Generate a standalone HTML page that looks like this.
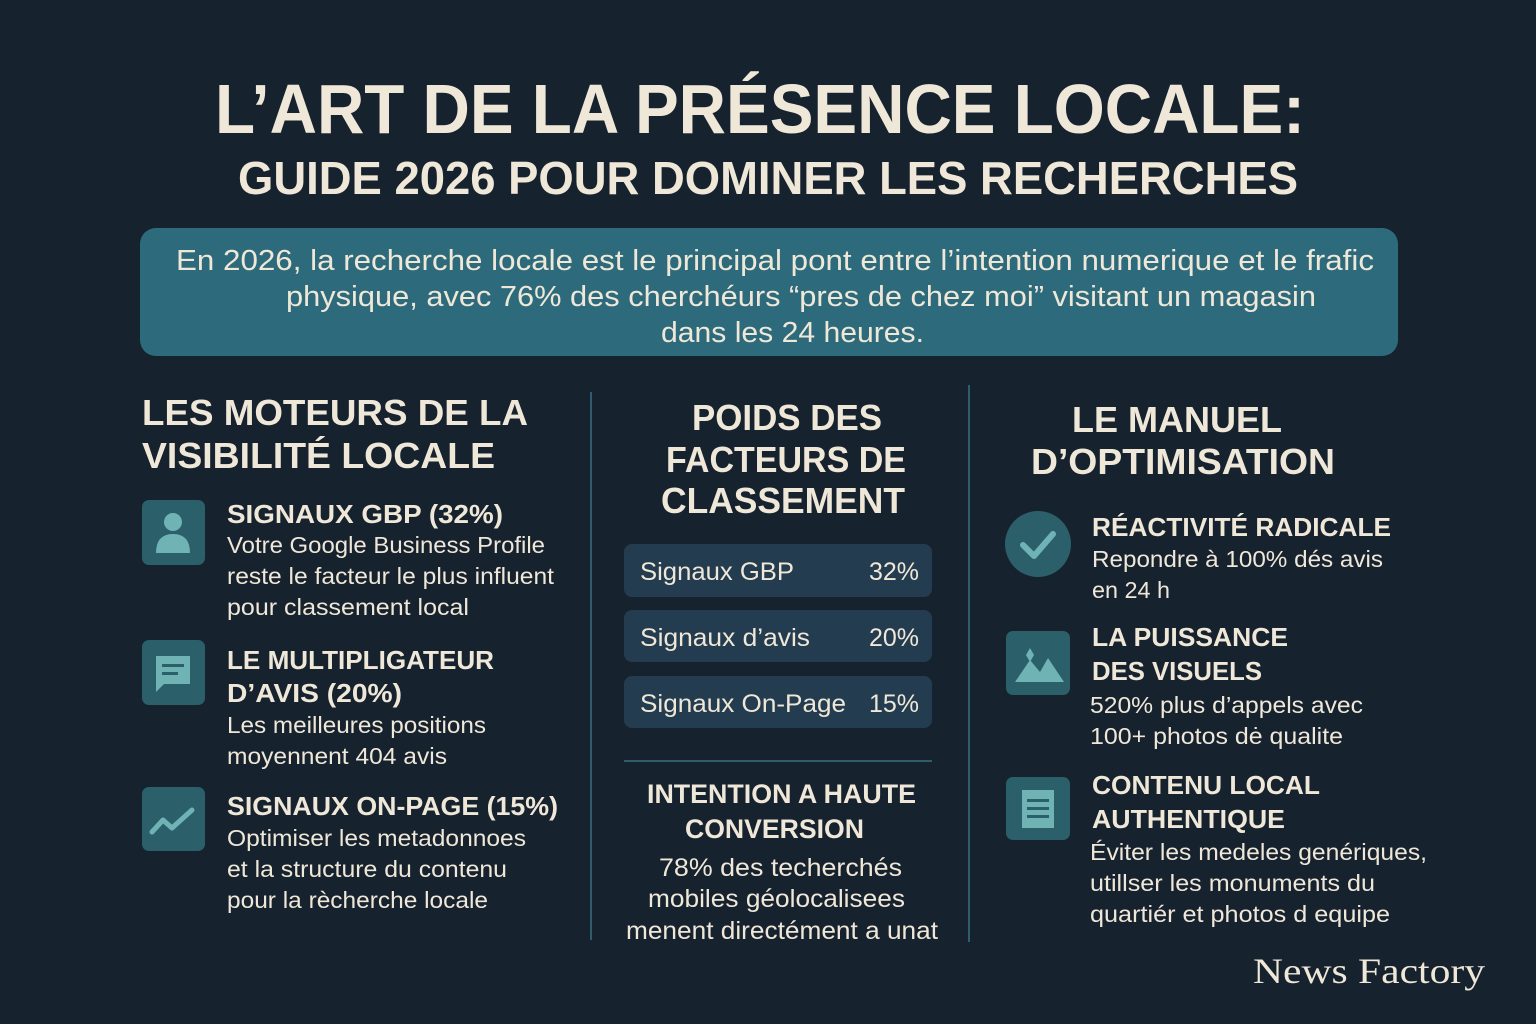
<!DOCTYPE html>
<html><head><meta charset="utf-8"><style>
html,body{margin:0;padding:0;background:#17222f;}
svg{display:block}
text{font-family:"Liberation Sans",sans-serif;fill:#efe8d8;}
.h{font-weight:bold}
</style></head><body>
<svg width="1536" height="1024" viewBox="0 0 1536 1024" xmlns="http://www.w3.org/2000/svg">
<rect width="1536" height="1024" fill="#17222f"/>
<text class="h" x="215" y="133" font-size="70" textLength="1090" lengthAdjust="spacingAndGlyphs">L’ART DE LA PRÉSENCE LOCALE:</text>
<text class="h" x="238" y="194" font-size="46" textLength="1060" lengthAdjust="spacingAndGlyphs">GUIDE 2026 POUR DOMINER LES RECHERCHES</text>
<rect x="140" y="228" width="1258" height="128" rx="16" fill="#2d6b7c"/>
<text x="176" y="270" font-size="29" textLength="1198" lengthAdjust="spacingAndGlyphs">En 2026, la recherche locale est le principal pont entre l’intention numerique et le frafic</text>
<text x="286" y="306" font-size="29" textLength="1030" lengthAdjust="spacingAndGlyphs">physique, avec 76% des cherchéurs “pres de chez moi” visitant un magasin</text>
<text x="661" y="342" font-size="29" textLength="263" lengthAdjust="spacingAndGlyphs">dans les 24 heures.</text>
<line x1="591" y1="392" x2="591" y2="940" stroke="#2f5d6e" stroke-width="2"/>
<line x1="969" y1="385" x2="969" y2="942" stroke="#2f5d6e" stroke-width="2"/>
<!-- left -->
<text class="h" x="142" y="425" font-size="36" textLength="386" lengthAdjust="spacingAndGlyphs">LES MOTEURS DE LA</text>
<text class="h" x="142" y="468" font-size="36" textLength="353" lengthAdjust="spacingAndGlyphs">VISIBILITÉ LOCALE</text>
<rect x="142" y="500" width="63" height="65" rx="7" fill="#2b5f6a"/>
<circle cx="173" cy="522" r="9" fill="#6fb3b5"/><path d="M156 553 Q156 534 173 534 Q190 534 190 553 Z" fill="#6fb3b5"/>
<rect x="142" y="640" width="63" height="65" rx="7" fill="#2b5f6a"/>
<path d="M156 656 H190 V684 H164 L156 692 Z" fill="#6fb3b5"/><rect x="162" y="664" width="22" height="3" fill="#2b5f6a"/><rect x="162" y="672" width="16" height="3" fill="#2b5f6a"/>
<rect x="142" y="787" width="63" height="64" rx="7" fill="#2b5f6a"/>
<polyline points="152,832 163,820 172,828 192,810" fill="none" stroke="#6fb3b5" stroke-width="5" stroke-linejoin="round" stroke-linecap="round"/>
<text class="h" x="227" y="523" font-size="26" textLength="276" lengthAdjust="spacingAndGlyphs">SIGNAUX GBP (32%)</text>
<text x="227" y="553" font-size="23" textLength="318" lengthAdjust="spacingAndGlyphs">Votre Google Business Profile</text>
<text x="227" y="584" font-size="23" textLength="327" lengthAdjust="spacingAndGlyphs">reste le facteur le plus influent</text>
<text x="227" y="615" font-size="23" textLength="242" lengthAdjust="spacingAndGlyphs">pour classement local</text>
<text class="h" x="227" y="669" font-size="26" textLength="267" lengthAdjust="spacingAndGlyphs">LE MULTIPLIGATEUR</text>
<text class="h" x="227" y="702" font-size="26" textLength="175" lengthAdjust="spacingAndGlyphs">D’AVIS (20%)</text>
<text x="227" y="733" font-size="23" textLength="259" lengthAdjust="spacingAndGlyphs">Les meilleures positions</text>
<text x="227" y="764" font-size="23" textLength="220" lengthAdjust="spacingAndGlyphs">moyennent 404 avis</text>
<text class="h" x="227" y="815" font-size="26" textLength="331" lengthAdjust="spacingAndGlyphs">SIGNAUX ON-PAGE (15%)</text>
<text x="227" y="846" font-size="23" textLength="299" lengthAdjust="spacingAndGlyphs">Optimiser les metadonnoes</text>
<text x="227" y="877" font-size="23" textLength="280" lengthAdjust="spacingAndGlyphs">et la structure du contenu</text>
<text x="227" y="908" font-size="23" textLength="261" lengthAdjust="spacingAndGlyphs">pour la rècherche locale</text>
<!-- middle -->
<text class="h" x="692" y="430" font-size="36" textLength="190" lengthAdjust="spacingAndGlyphs">POIDS DES</text>
<text class="h" x="666" y="472" font-size="36" textLength="240" lengthAdjust="spacingAndGlyphs">FACTEURS DE</text>
<text class="h" x="661" y="513" font-size="36" textLength="244" lengthAdjust="spacingAndGlyphs">CLASSEMENT</text>
<rect x="624" y="544" width="308" height="53" rx="8" fill="#243c50"/>
<rect x="624" y="610" width="308" height="52" rx="8" fill="#243c50"/>
<rect x="624" y="676" width="308" height="52" rx="8" fill="#243c50"/>
<text x="640" y="580" font-size="25" textLength="154" lengthAdjust="spacingAndGlyphs">Signaux GBP</text>
<text x="919" y="580" font-size="25" text-anchor="end">32%</text>
<text x="640" y="646" font-size="25" textLength="170" lengthAdjust="spacingAndGlyphs">Signaux d’avis</text>
<text x="919" y="646" font-size="25" text-anchor="end">20%</text>
<text x="640" y="712" font-size="25" textLength="206" lengthAdjust="spacingAndGlyphs">Signaux On-Page</text>
<text x="919" y="712" font-size="25" text-anchor="end">15%</text>
<line x1="624" y1="761" x2="932" y2="761" stroke="#2f5d6e" stroke-width="2"/>
<text class="h" x="647" y="803" font-size="27" textLength="269" lengthAdjust="spacingAndGlyphs">INTENTION A HAUTE</text>
<text class="h" x="685" y="838" font-size="27" textLength="179" lengthAdjust="spacingAndGlyphs">CONVERSION</text>
<text x="659" y="876" font-size="25" textLength="243" lengthAdjust="spacingAndGlyphs">78% des techerchés</text>
<text x="648" y="907" font-size="25" textLength="257" lengthAdjust="spacingAndGlyphs">mobiles géolocalisees</text>
<text x="626" y="939" font-size="25" textLength="312" lengthAdjust="spacingAndGlyphs">menent directément a unat</text>
<!-- right -->
<text class="h" x="1072" y="432" font-size="36" textLength="210" lengthAdjust="spacingAndGlyphs">LE MANUEL</text>
<text class="h" x="1031" y="474" font-size="36" textLength="304" lengthAdjust="spacingAndGlyphs">D’OPTIMISATION</text>
<circle cx="1038" cy="544" r="33" fill="#2b5f6a"/>
<polyline points="1023,545 1034,556 1053,534" fill="none" stroke="#6fb3b5" stroke-width="6" stroke-linecap="round" stroke-linejoin="round"/>
<rect x="1006" y="631" width="64" height="64" rx="7" fill="#2b5f6a"/>
<path d="M1015 682 L1030 660 L1040 672 L1048 658 L1064 682 Z" fill="#6fb3b5"/><path d="M1030 648 L1034 655 L1030 662 L1026 655 Z" fill="#6fb3b5"/>
<rect x="1006" y="777" width="64" height="63" rx="7" fill="#2b5f6a"/>
<rect x="1022" y="790" width="32" height="38" fill="#6fb3b5"/>
<rect x="1027" y="799" width="22" height="3" fill="#2b5f6a"/><rect x="1027" y="807" width="22" height="3" fill="#2b5f6a"/><rect x="1027" y="815" width="22" height="3" fill="#2b5f6a"/>
<text class="h" x="1092" y="536" font-size="26" textLength="299" lengthAdjust="spacingAndGlyphs">RÉACTIVITÉ RADICALE</text>
<text x="1092" y="567" font-size="23" textLength="291" lengthAdjust="spacingAndGlyphs">Repondre à 100% dés avis</text>
<text x="1092" y="598" font-size="23" textLength="78" lengthAdjust="spacingAndGlyphs">en 24 h</text>
<text class="h" x="1092" y="646" font-size="26" textLength="196" lengthAdjust="spacingAndGlyphs">LA PUISSANCE</text>
<text class="h" x="1092" y="680" font-size="26" textLength="170" lengthAdjust="spacingAndGlyphs">DES VISUELS</text>
<text x="1090" y="713" font-size="23" textLength="273" lengthAdjust="spacingAndGlyphs">520% plus d’appels avec</text>
<text x="1090" y="744" font-size="23" textLength="253" lengthAdjust="spacingAndGlyphs">100+ photos dė qualite</text>
<text class="h" x="1092" y="794" font-size="26" textLength="228" lengthAdjust="spacingAndGlyphs">CONTENU LOCAL</text>
<text class="h" x="1092" y="828" font-size="26" textLength="193" lengthAdjust="spacingAndGlyphs">AUTHENTIQUE</text>
<text x="1090" y="860" font-size="23" textLength="337" lengthAdjust="spacingAndGlyphs">Éviter les medeles genériques,</text>
<text x="1090" y="891" font-size="23" textLength="285" lengthAdjust="spacingAndGlyphs">utillser les monuments du</text>
<text x="1090" y="922" font-size="23" textLength="300" lengthAdjust="spacingAndGlyphs">quartiér et photos d equipe</text>
<text x="1253" y="983" font-size="36" style="font-family:'Liberation Serif',serif" fill="#ffffff" textLength="232" lengthAdjust="spacingAndGlyphs">News Factory</text>
</svg>
</body></html>
